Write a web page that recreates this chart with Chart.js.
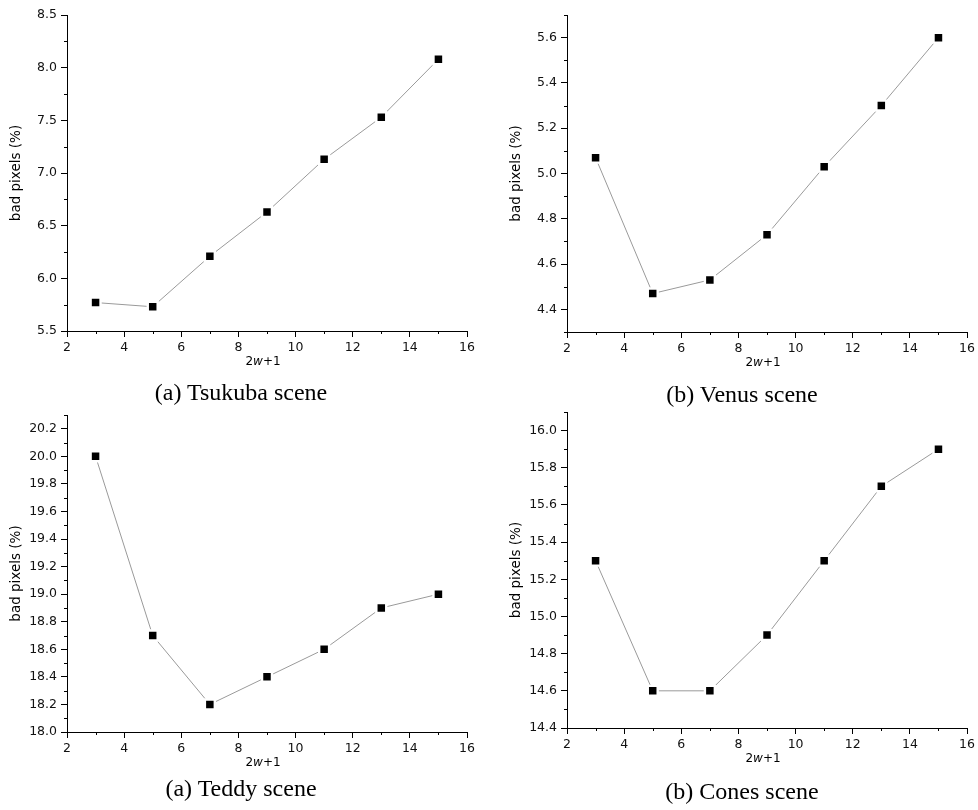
<!DOCTYPE html>
<html>
<head>
<meta charset="utf-8">
<script src="https://cdn.jsdelivr.net/npm/chart.js@4.4.1/dist/chart.umd.min.js"></script>
<style>
  body { margin: 0; background: #fff; width: 978px; height: 810px; position: relative; overflow: hidden; }
  canvas { position: absolute; }
  .caption {
    position: absolute; width: 320px; text-align: center;
    font-family: "Liberation Serif", "Times New Roman", serif; font-size: 24px; line-height: 26px; color: #000;
  }
</style>
</head>
<body>
<canvas id="tsukuba" width="489" height="378"></canvas>
<canvas id="venus" width="488" height="378"></canvas>
<canvas id="teddy" width="489" height="378"></canvas>
<canvas id="cones" width="488" height="378"></canvas>
<div class="caption" style="left:81px; top:379px;">(a) Tsukuba scene</div>
<div class="caption" style="left:582px; top:381px;">(b) Venus scene</div>
<div class="caption" style="left:81px; top:775px;">(a) Teddy scene</div>
<div class="caption" style="left:582px; top:778px;">(b) Cones scene</div>
<script>
// window size 2w+1 on the x axis
const windowSizes = [3, 5, 7, 9, 11, 13, 15];
const xTicks = [2, 4, 6, 8, 10, 12, 14, 16];

// bad pixels (%) per scene
const tsukubaBad = [5.77, 5.73, 6.21, 6.63, 7.13, 7.53, 8.08];
const venusBad = [5.07, 4.47, 4.53, 4.73, 5.03, 5.30, 5.60];
const teddyBad = [20.0, 18.7, 18.2, 18.4, 18.6, 18.9, 19.0];
const conesBad = [15.3, 14.6, 14.6, 14.9, 15.3, 15.7, 15.9];

// y tick labels per scene
const tsukubaTicks = [5.5, 6.0, 6.5, 7.0, 7.5, 8.0, 8.5];
const venusTicks = [4.4, 4.6, 4.8, 5.0, 5.2, 5.4, 5.6];
const teddyTicks = [18.0, 18.2, 18.4, 18.6, 18.8, 19.0, 19.2, 19.4, 19.6, 19.8, 20.0, 20.2];
const conesTicks = [14.4, 14.6, 14.8, 15.0, 15.2, 15.4, 15.6, 15.8, 16.0];

const tickFont = { family: 'DejaVu Sans', size: 12.5 };

// small ticks between the labelled ones (Origin style)
const minorTicks = {
    id: 'minorTicks',
    afterDraw(chart, args, opts) {
        const ctx = chart.ctx;
        ctx.save();
        ctx.strokeStyle = '#000';
        ctx.lineWidth = 1;
        ctx.beginPath();
        ['x', 'y'].forEach(id => {
            const scale = chart.scales[id];
            const step = opts[id];
            const majors = scale.ticks.map(t => t.value);
            const n = Math.round((scale.max - scale.min) / step);
            for (let i = 0; i <= n; i++) {
                const v = scale.min + i * step;
                if (majors.some(m => Math.abs(m - v) < step / 10)) continue;
                const p = Math.round(scale.getPixelForValue(v)) + 0.5;
                if (id === 'x') {
                    const y0 = chart.chartArea.bottom;
                    ctx.moveTo(p, y0); ctx.lineTo(p, y0 + 3);
                } else {
                    const x0 = chart.chartArea.left;
                    ctx.moveTo(x0, p); ctx.lineTo(x0 - 3, p);
                }
            }
        });
        ctx.stroke();
        ctx.restore();
    }
};

// x axis title "2w+1" with an italic w
const xTitle = {
    id: 'xTitle',
    afterDraw(chart) {
        const ctx = chart.ctx;
        const area = chart.chartArea;
        const parts = [['2', ''], ['w', 'italic '], ['+1', '']];
        ctx.save();
        ctx.fillStyle = '#000';
        ctx.textBaseline = 'middle';
        let total = 0;
        parts.forEach(p => { ctx.font = p[1] + '12px "DejaVu Sans"'; total += ctx.measureText(p[0]).width; });
        let x = (area.left + area.right) / 2 - 4 - total / 2;
        const y = area.bottom + 31;
        parts.forEach(p => {
            ctx.font = p[1] + '12px "DejaVu Sans"';
            ctx.fillText(p[0], x, y);
            x += ctx.measureText(p[0]).width;
        });
        ctx.restore();
    }
};

function makePanel(id, values, yTicks, yMin, yMax, yMinor, box) {
    const canvas = document.getElementById(id);
    canvas.style.left = box.canvasLeft + 'px';
    canvas.style.top = box.canvasTop + 'px';
    const yWidth = box.left - box.canvasLeft;
    const xHeight = box.canvasTop + canvas.height - box.bottom;

    new Chart(canvas, {
        type: 'line',
        data: {
            datasets: [{
                data: windowSizes.map((x, i) => ({ x: x, y: values[i] })),
                borderColor: '#9a9a9a',
                borderWidth: 1,
                pointStyle: 'rect',
                pointRadius: 7,
                pointBackgroundColor: '#000',
                pointBorderColor: '#fff',
                pointBorderWidth: 2.4,
                tension: 0
            }]
        },
        options: {
            responsive: false,
            animation: false,
            devicePixelRatio: 1,
            layout: { padding: { top: box.top - box.canvasTop, right: box.canvasLeft + canvas.width - box.right, left: 0, bottom: 0 } },
            plugins: {
                legend: { display: false },
                tooltip: { enabled: false },
                minorTicks: { x: 1, y: yMinor }
            },
            scales: {
                x: {
                    type: 'linear',
                    min: 2,
                    max: 16,
                    afterBuildTicks: s => { s.ticks = xTicks.map(v => ({ value: v })); },
                    afterFit: s => { s.height = xHeight; },
                    ticks: { font: tickFont, color: '#111', padding: 3, autoSkip: false, maxRotation: 0 },
                    grid: { drawOnChartArea: false, tickLength: 6, tickColor: '#000' },
                    border: { color: '#000', width: 1 }
                },
                y: {
                    min: yMin,
                    max: yMax,
                    afterBuildTicks: s => { s.ticks = yTicks.map(v => ({ value: v })); },
                    afterFit: s => { s.width = yWidth; },
                    ticks: { font: tickFont, color: '#111', padding: 4, autoSkip: false, callback: v => v.toFixed(1) },
                    grid: { drawOnChartArea: false, tickLength: 6, tickColor: '#000' },
                    border: { color: '#000', width: 1 },
                    title: {
                        display: true,
                        text: 'bad pixels (%)',
                        color: '#000',
                        font: { family: 'DejaVu Sans', size: 13.5 },
                        padding: { top: yWidth - 51 - 8.1, bottom: 0 }
                    }
                }
            }
        },
        plugins: [minorTicks, xTitle]
    });
}

makePanel('tsukuba', tsukubaBad, tsukubaTicks, 5.5, 8.5, 0.25,
    { canvasLeft: 0, canvasTop: 0, left: 67, right: 467, top: 15, bottom: 331 });
makePanel('venus', venusBad, venusTicks, 4.3, 5.7, 0.1,
    { canvasLeft: 490, canvasTop: 0, left: 567, right: 968, top: 15, bottom: 332 });
makePanel('teddy', teddyBad, teddyTicks, 18.0, 20.3, 0.1,
    { canvasLeft: 0, canvasTop: 400, left: 67, right: 467, top: 415, bottom: 732 });
makePanel('cones', conesBad, conesTicks, 14.4, 16.1, 0.1,
    { canvasLeft: 490, canvasTop: 400, left: 567, right: 968, top: 412, bottom: 728 });
</script>
</body>
</html>
